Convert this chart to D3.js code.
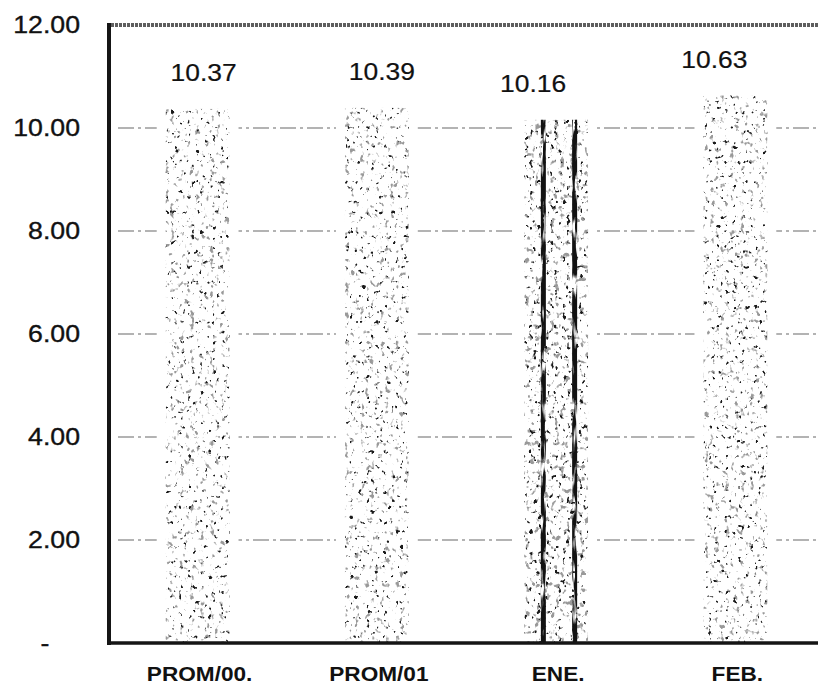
<!DOCTYPE html>
<html>
<head>
<meta charset="utf-8">
<script src="https://cdn.jsdelivr.net/npm/d3@7"></script>
<style>
  html, body { margin: 0; padding: 0; background: #fff; }
  svg { display: block; }
</style>
</head>
<body>
<script>
// ---- data ----
const categories = ["PROM/00.", "PROM/01", "ENE.", "FEB."];
const values = [10.37, 10.39, 10.16, 10.63];
const valueLabels = ["10.37", "10.39", "10.16", "10.63"];
const yTicks = [0, 2, 4, 6, 8, 10, 12];
const yTickLabels = ["-", "2.00", "4.00", "6.00", "8.00", "10.00", "12.00"];

// ---- layout / style (kept apart from data) ----
const W = 818, H = 686;
const labelNudge = [6, 5, -23, -21];          // horizontal nudge of value labels
const textures = ["speckA", "speckA", "speckB", "speckA"];
const streakBars = ["ENE."];
const FONT = "'Liberation Sans', Arial, Helvetica, sans-serif";
const SX = 1.16; // horizontal stretch of the lettering in the reference

const svg = d3.select("body").append("svg").attr("width", W).attr("height", H);

const x = d3.scaleBand().domain(categories).range([108, 825])
  .paddingInner(0.644).paddingOuter(0.322);
const y = d3.scaleLinear().domain([0, 12]).range([643, 25]);

// ---- texture filters ----
const defs = svg.append("defs");
function speckFilter(id, lightK, lightC, darkK, darkC, seedA, seedB) {
  const f = defs.append("filter").attr("id", id)
    .attr("filterUnits", "objectBoundingBox")
    .attr("x", 0).attr("y", 0).attr("width", 1).attr("height", 1)
    .attr("color-interpolation-filters", "sRGB");
  f.append("feTurbulence").attr("type", "fractalNoise").attr("baseFrequency", "0.2 0.17")
    .attr("numOctaves", 2).attr("seed", seedA).attr("result", "n1");
  f.append("feColorMatrix").attr("in", "n1").attr("type", "matrix")
    .attr("values", `0 0 0 0 0.6  0 0 0 0 0.6  0 0 0 0 0.6  ${-lightK} 0 0 0 ${lightC}`)
    .attr("result", "light");
  f.append("feTurbulence").attr("type", "fractalNoise").attr("baseFrequency", "0.24 0.2")
    .attr("numOctaves", 2).attr("seed", seedB).attr("result", "n2");
  f.append("feColorMatrix").attr("in", "n2").attr("type", "matrix")
    .attr("values", `0 0 0 0 0.1  0 0 0 0 0.1  0 0 0 0 0.1  ${-darkK} 0 0 0 ${darkC}`)
    .attr("result", "dark");
  const m = f.append("feMerge").attr("result", "dots");
  m.append("feMergeNode").attr("in", "light");
  m.append("feMergeNode").attr("in", "dark");
  f.append("feComposite").attr("in", "dots").attr("in2", "SourceAlpha").attr("operator", "in");
}
speckFilter("speckA", 8, 2.95, 10, 3.25, 3, 11);
speckFilter("speckB", 8, 3.2, 10, 3.5, 5, 17);

const br = defs.append("filter").attr("id", "broken")
  .attr("filterUnits", "userSpaceOnUse")
  .attr("x", 0).attr("y", 0).attr("width", W).attr("height", H)
  .attr("color-interpolation-filters", "sRGB");
br.append("feTurbulence").attr("type", "fractalNoise").attr("baseFrequency", "0.25 0.04")
  .attr("numOctaves", 2).attr("seed", 9).attr("result", "n");
br.append("feColorMatrix").attr("in", "n").attr("type", "matrix")
  .attr("values", "0 0 0 0 0.07  0 0 0 0 0.07  0 0 0 0 0.07  5 0 0 0 -1.5")
  .attr("result", "m");
br.append("feComposite").attr("in", "m").attr("in2", "SourceAlpha").attr("operator", "in");

// ---- gridlines ----
svg.append("g").selectAll("line")
  .data(yTicks.filter(d => d > 0 && d < 12))
  .join("line")
  .attr("x1", 118).attr("x2", W)
  .attr("y1", d => y(d)).attr("y2", d => y(d))
  .attr("stroke", "#9a9a9a").attr("stroke-width", 1.4)
  .attr("stroke-dasharray", "16,4,3,4");

// ---- bars ----
const bars = svg.append("g").selectAll("g")
  .data(categories.map((c, i) => ({ c, v: values[i], i })))
  .join("g");

bars.append("rect")
  .attr("x", d => x(d.c) - 9).attr("width", x.bandwidth() + 18)
  .attr("y", d => y(d.v) - 4).attr("height", d => y(0) - y(d.v) + 2)
  .attr("fill", "#fff");

bars.append("rect")
  .attr("x", d => x(d.c)).attr("width", x.bandwidth())
  .attr("y", d => y(d.v)).attr("height", d => y(0) - y(d.v))
  .attr("fill", "#fff")
  .attr("filter", d => `url(#${textures[d.i]})`);

const streakPos = [0.3, 0.79];
bars.filter(d => streakBars.includes(d.c)).each(function (d) {
  d3.select(this).selectAll("rect.streak").data(streakPos).join("rect")
    .attr("class", "streak")
    .attr("x", p => x(d.c) + p * x.bandwidth() - 2.5)
    .attr("width", 5)
    .attr("y", y(d.v)).attr("height", y(0) - y(d.v))
    .attr("fill", "#000")
    .attr("filter", "url(#broken)");
});

// ---- frame ----
svg.append("line").attr("x1", 107).attr("x2", W).attr("y1", y(12)).attr("y2", y(12))
  .attr("stroke", "#5e5e5e").attr("stroke-width", 4).attr("stroke-dasharray", "3,1");
svg.append("line").attr("x1", 107).attr("x2", W).attr("y1", y(0)).attr("y2", y(0))
  .attr("stroke", "#151515").attr("stroke-width", 3.5);
svg.append("line").attr("x1", 109).attr("x2", 109).attr("y1", y(12) - 2).attr("y2", y(0) + 2)
  .attr("stroke", "#151515").attr("stroke-width", 4);

// ---- y axis labels ----
const yAxis = svg.append("g").attr("transform", "translate(80,0)")
  .call(d3.axisLeft(y).tickValues(yTicks).tickFormat((d, i) => yTickLabels[i])
    .tickSize(0).tickPadding(0));
yAxis.select(".domain").remove();
yAxis.selectAll("text")
  .attr("font-family", FONT).attr("font-size", 23).attr("fill", "#111")
  .attr("stroke", "#111").attr("stroke-width", 0.35)
  .attr("x", 0)
  .attr("transform", `scale(${SX},1)`);
yAxis.selectAll(".tick").filter(d => d === 0).select("text")
  .attr("text-anchor", "middle").attr("x", -35 / SX);

// ---- value labels ----
svg.append("g").selectAll("text")
  .data(categories.map((c, i) => ({ c, v: values[i], i })))
  .join("text")
  .attr("transform", d => `translate(${x(d.c) + x.bandwidth() / 2 + labelNudge[d.i]},${y(d.v) - 28}) scale(${SX * 0.97},1)`)
  .attr("text-anchor", "middle")
  .attr("font-family", FONT).attr("font-size", 23.5).attr("fill", "#111")
  .attr("stroke", "#111").attr("stroke-width", 0.2)
  .text(d => valueLabels[d.i]);

// ---- x labels ----
svg.append("g").selectAll("text")
  .data(categories)
  .join("text")
  .attr("transform", d => `translate(${x(d) + x.bandwidth() / 2 + 2},681) scale(${SX},1)`)
  .attr("text-anchor", "middle")
  .attr("font-family", FONT).attr("font-size", 19.5).attr("font-weight", "bold").attr("fill", "#111")
  .text(d => d);
</script>
</body>
</html>
